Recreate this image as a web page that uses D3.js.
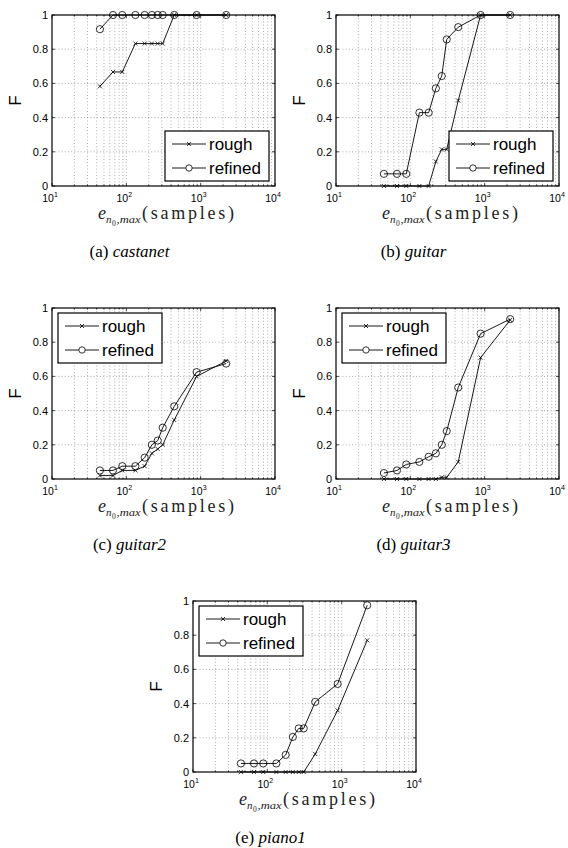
<!DOCTYPE html>
<html><head><meta charset="utf-8">
<script src="https://cdn.jsdelivr.net/npm/d3@7"></script>
<style>body{margin:0;background:#fff}</style>
</head><body><script>
// ---- data ----
const xSamples = [44.1, 66.15, 88.2, 132.3, 176.4, 220.5, 264.6, 308.7, 441, 882, 2205];
const panelNames = ["castanet", "guitar", "guitar2", "guitar3", "piano1"];
const panelLetters = ["a", "b", "c", "d", "e"];
const seriesNames = ["rough", "refined"];
const castanetRough   = [0.583, 0.667, 0.667, 0.833, 0.833, 0.833, 0.833, 0.833, 1, 1, 1];
const castanetRefined = [0.917, 1, 1, 1, 1, 1, 1, 1, 1, 1, 1];
const guitarRough     = [0, 0, 0, 0, 0, 0.143, 0.214, 0.214, 0.5, 1, 1];
const guitarRefined   = [0.071, 0.071, 0.071, 0.429, 0.429, 0.571, 0.643, 0.857, 0.929, 1, 1];
const guitar2Rough    = [0.02, 0.02, 0.05, 0.05, 0.075, 0.15, 0.175, 0.2, 0.345, 0.6, 0.69];
const guitar2Refined  = [0.05, 0.05, 0.075, 0.075, 0.125, 0.2, 0.225, 0.3, 0.425, 0.625, 0.675];
const guitar3Rough    = [0, 0, 0, 0, 0, 0, 0.01, 0.01, 0.1, 0.71, 0.93];
const guitar3Refined  = [0.035, 0.05, 0.085, 0.1, 0.13, 0.15, 0.2, 0.28, 0.535, 0.85, 0.935];
const piano1Rough     = [0, 0, 0, 0, 0, 0, 0, 0, 0.105, 0.36, 0.77];
const piano1Refined   = [0.05, 0.05, 0.05, 0.05, 0.1, 0.205, 0.255, 0.255, 0.41, 0.515, 0.975];
const yTicks = [0, 0.2, 0.4, 0.6, 0.8, 1];
const yTickLabels = ["0", "0.2", "0.4", "0.6", "0.8", "1"];
const xTicks = [10, 100, 1000, 10000];
const xTickExps = ["1", "2", "3", "4"];
const yLabel = "F";

const seriesData = [
  [castanetRough, castanetRefined],
  [guitarRough, guitarRefined],
  [guitar2Rough, guitar2Refined],
  [guitar3Rough, guitar3Refined],
  [piano1Rough, piano1Refined]
];

// ---- layout ----
const PW = 223, PH = 171;
const layout = [
  {left: 52, top: 15, legend: "br"},
  {left: 336, top: 15, legend: "br"},
  {left: 52, top: 308, legend: "tl"},
  {left: 336, top: 308, legend: "tl"},
  {left: 193, top: 601, legend: "tl"}
];
const SANS = "'Liberation Sans', Arial, Helvetica, sans-serif";
const SERIF = "'Liberation Serif', 'Times New Roman', serif";

const svg = d3.select("body").append("svg")
  .attr("width", 568).attr("height", 848)
  .style("display", "block");

const x = d3.scaleLog().domain([10, 10000]).range([0, PW]);
const y = d3.scaleLinear().domain([0, 1]).range([PH, 0]);

const minor = [];
[10, 100, 1000].forEach(d => { for (let k = 2; k <= 9; k++) minor.push(d * k); });

panelNames.forEach((name, i) => {
  const L = layout[i];
  const g = svg.append("g").attr("transform", `translate(${L.left},${L.top})`);

  // grid
  const grid = g.append("g").attr("stroke", "#777").attr("stroke-width", 0.6)
    .attr("stroke-dasharray", "1,2.2");
  grid.selectAll("line.vx").data(minor.concat([100, 1000])).join("line")
    .attr("x1", d => x(d)).attr("x2", d => x(d)).attr("y1", 0).attr("y2", PH);
  grid.selectAll("line.hy").data(yTicks.slice(1, -1)).join("line")
    .attr("x1", 0).attr("x2", PW).attr("y1", d => y(d)).attr("y2", d => y(d));

  // ticks (inside)
  const tk = g.append("g").attr("stroke", "#000").attr("stroke-width", 0.7);
  xTicks.forEach(d => {
    tk.append("line").attr("x1", x(d)).attr("x2", x(d)).attr("y1", PH).attr("y2", PH - 3);
    tk.append("line").attr("x1", x(d)).attr("x2", x(d)).attr("y1", 0).attr("y2", 3);
  });
  minor.forEach(d => {
    tk.append("line").attr("x1", x(d)).attr("x2", x(d)).attr("y1", PH).attr("y2", PH - 1.6);
    tk.append("line").attr("x1", x(d)).attr("x2", x(d)).attr("y1", 0).attr("y2", 1.6);
  });
  yTicks.forEach(d => {
    tk.append("line").attr("x1", 0).attr("x2", 3).attr("y1", y(d)).attr("y2", y(d));
    tk.append("line").attr("x1", PW).attr("x2", PW - 3).attr("y1", y(d)).attr("y2", y(d));
  });

  // box
  g.append("rect").attr("x", 0).attr("y", 0).attr("width", PW).attr("height", PH)
    .attr("fill", "none").attr("stroke", "#000").attr("stroke-width", 1.2);

  // series
  const line = d3.line().x((d, j) => x(xSamples[j])).y(d => y(d));
  seriesData[i].forEach((vals, s) => {
    g.append("path").attr("d", line(vals)).attr("fill", "none")
      .attr("stroke", "#000").attr("stroke-width", 0.9);
    const mk = g.append("g");
    vals.forEach((v, j) => {
      const cx = x(xSamples[j]), cy = y(v);
      if (s === 0) {
        mk.append("path").attr("d", `M${cx-2},${cy-2}L${cx+2},${cy+2}M${cx-2},${cy+2}L${cx+2},${cy-2}`)
          .attr("stroke", "#000").attr("stroke-width", 0.8);
      } else {
        mk.append("circle").attr("cx", cx).attr("cy", cy).attr("r", 3.6)
          .attr("fill", "none").attr("stroke", "#000").attr("stroke-width", 0.8);
      }
    });
  });

  // y tick labels
  g.append("g").selectAll("text").data(yTicks).join("text")
    .attr("x", -4).attr("y", d => y(d) + 4)
    .attr("text-anchor", "end").attr("font-family", SANS).attr("font-size", 11)
    .text((d, j) => yTickLabels[j]);

  // x tick labels 10^k
  xTicks.forEach((d, j) => {
    g.append("text").attr("x", x(d) - 4).attr("y", PH + 16)
      .attr("text-anchor", "middle").attr("font-family", SANS).attr("font-size", 10.5).text("10");
    g.append("text").attr("x", x(d) + 2).attr("y", PH + 10.5)
      .attr("font-family", SANS).attr("font-size", 7).text(xTickExps[j]);
  });

  // y label
  g.append("text").attr("transform", `translate(${-31},${PH / 2}) rotate(-90)`)
    .attr("text-anchor", "middle").attr("font-family", SANS).attr("font-size", 17)
    .text(yLabel);

  // x label: e_{n0,max}(samples)
  const xl = g.append("g").attr("font-family", SERIF).attr("fill", "#222");
  const bx = 46, by = PH + 33;
  xl.append("text").attr("x", bx).attr("y", by).attr("font-size", 18).attr("font-style", "italic").text("e");
  xl.append("text").attr("x", bx + 8).attr("y", by + 4).attr("font-size", 11).attr("font-style", "italic").text("n");
  xl.append("text").attr("x", bx + 14).attr("y", by + 6.5).attr("font-size", 7.5).text("0");
  xl.append("text").attr("x", bx + 18.5).attr("y", by + 4).attr("font-size", 11).attr("font-style", "italic")
    .attr("textLength", 24).attr("lengthAdjust", "spacingAndGlyphs").text(",max");
  xl.append("text").attr("x", bx + 44).attr("y", by).attr("font-size", 18)
    .attr("textLength", 92).attr("lengthAdjust", "spacing").text("(samples)");

  // caption
  const cap = g.append("text").attr("x", PW / 2 - 34).attr("y", PH + 71)
    .attr("text-anchor", "middle").attr("font-family", SERIF).attr("font-size", 17);
  cap.append("tspan").text(`(${panelLetters[i]}) `);
  cap.append("tspan").attr("font-style", "italic").text(name);

  // legend
  const LW = 104, LH = 50;
  const lx = L.legend === "br" ? PW - 6 - LW : 6;
  const ly = L.legend === "br" ? PH - 5 - LH : 5;
  const lg = g.append("g").attr("transform", `translate(${lx},${ly})`);
  lg.append("rect").attr("width", LW).attr("height", LH).attr("fill", "#fff")
    .attr("stroke", "#000").attr("stroke-width", 1.2);
  seriesNames.forEach((sn, s) => {
    const ry = 13 + s * 24;
    lg.append("line").attr("x1", 7).attr("x2", 41).attr("y1", ry).attr("y2", ry)
      .attr("stroke", "#000").attr("stroke-width", 0.9);
    if (s === 0) {
      lg.append("path").attr("d", `M22,${ry-2}L26,${ry+2}M22,${ry+2}L26,${ry-2}`)
        .attr("stroke", "#000").attr("stroke-width", 0.8);
    } else {
      lg.append("circle").attr("cx", 24).attr("cy", ry).attr("r", 3.2)
        .attr("fill", "#fff").attr("stroke", "#000").attr("stroke-width", 0.8);
    }
    lg.append("text").attr("x", 44).attr("y", ry + 5.5).attr("font-family", SANS)
      .attr("font-size", 17).text(sn);
  });
});
</script></body></html>
